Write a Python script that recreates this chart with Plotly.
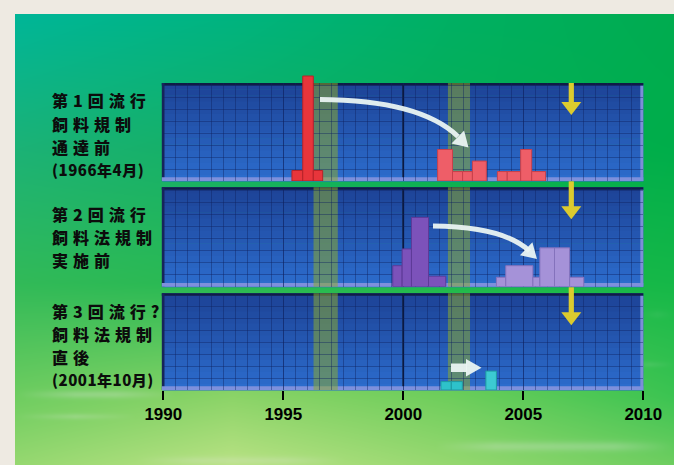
import base64
import struct
import zlib

import numpy as np
import plotly.graph_objects as go

W, H = 674, 465

# ---------------- data ----------------
year_ticks = [1990, 1995, 2000, 2005, 2010]
tick_labels = ["1990", "1995", "2000", "2005", "2010"]

panel_titles = [
    ["第1回流行", "飼料規制", "通達前", "(1966年4月)"],
    ["第2回流行", "飼料法規制", "実施前"],
    ["第3回流行?", "飼料法規制", "直後", "(2001年10月)"],
]

# regulation periods shaded across every panel (years)
shade_start = [1996.26, 2001.86]
shade_end = [1997.27, 2002.78]

marker_year = 2007.0      # yellow arrow
divider_year = 2000.0     # black line

# histogram bins: edges (years) and counts, one cluster per list
p1_a_edges = [1995.36, 1995.81, 1996.25, 1996.64]
p1_a_counts = [1.0, 10.0, 1.0]
p1_b_edges = [2001.43, 2002.05, 2002.47, 2002.88, 2003.46]
p1_b_counts = [3.0, 0.9, 0.9, 1.9]
p1_c_edges = [2003.92, 2004.33, 2004.89, 2005.35, 2005.93]
p1_c_counts = [0.9, 0.9, 3.0, 0.9]

p2_a_edges = [1999.56, 1999.95, 2000.34, 2001.05, 2001.77]
p2_a_counts = [2.0, 3.6, 6.6, 1.0]
p2_b_edges = [2003.88, 2004.27, 2005.40, 2005.69, 2006.30, 2006.93, 2007.52]
p2_b_counts = [0.9, 2.0, 0.9, 3.7, 3.7, 0.9]

p3_a_edges = [2001.57, 2002.00, 2002.46]
p3_a_counts = [0.8, 0.8]
p3_b_edges = [2003.44, 2003.88]
p3_b_counts = [1.8]

clusters = [
    (1, p1_a_edges, p1_a_counts, "#E8353B", "#B82228"),
    (1, p1_b_edges, p1_b_counts, "#EE5E68", "#C8404A"),
    (1, p1_c_edges, p1_c_counts, "#EE5E68", "#C8404A"),
    (2, p2_a_edges, p2_a_counts, "#7C52BA", "#5E3A98"),
    (2, p2_b_edges, p2_b_counts, "#A592D8", "#8472BC"),
    (3, p3_a_edges, p3_a_counts, "#2EC2CA", "#1E9AA2"),
    (3, p3_b_edges, p3_b_counts, "#3CCAD2", "#1E9AA2"),
]

# ---------------- layout geometry (px) ----------------
X0_PX, X1_PX = 163.3, 643.3
panels_px = [(83.0, 181.0), (187.3, 286.7), (293.3, 390.0)]
UNIT_PX = 10.5
GRID_PX = 12.0
BAR_HEADROOM_PX = 14   # the first panel's bars may rise above its frame
CAPTION_MID = [135, 237, 345]
CAPTION_STEP = 23


def px(x):
    return x / W


def py(y):
    return 1 - y / H


def year_px(yr):
    return X0_PX + (yr - 1990) / 20 * (X1_PX - X0_PX)


# ---------------- background picture ----------------
def png_uri(arr):
    h, w, _ = arr.shape
    raw = b"".join(b"\x00" + arr[r].tobytes() for r in range(h))

    def chunk(tag, data):
        body = tag + data
        return struct.pack(">I", len(data)) + body + struct.pack(">I", zlib.crc32(body) & 0xFFFFFFFF)

    png = (b"\x89PNG\r\n\x1a\n"
           + chunk(b"IHDR", struct.pack(">IIBBBBB", w, h, 8, 2, 0, 0, 0))
           + chunk(b"IDAT", zlib.compress(raw, 9))
           + chunk(b"IEND", b""))
    return "data:image/png;base64," + base64.b64encode(png).decode()


bg_w, bg_h = W - 15, H - 14
cu = [0.0, 0.33, 0.66, 1.0]
cv = [0.0, 0.3, 0.6, 0.85, 1.0]
ctrl = np.array([
    [(0, 182, 152), (0, 180, 128), (0, 176, 100), (0, 172, 80)],
    [(28, 178, 118), (20, 176, 100), (8, 175, 84), (0, 174, 74)],
    [(50, 186, 88), (40, 186, 82), (30, 186, 76), (22, 184, 72)],
    [(110, 205, 96), (140, 212, 104), (110, 206, 92), (60, 196, 82)],
    [(150, 216, 112), (185, 226, 132), (150, 216, 112), (110, 206, 96)],
], dtype=float)
uu = np.linspace(0, 1, bg_w)
vv = np.linspace(0, 1, bg_h)
rows = np.stack([[np.interp(uu, cu, ctrl[r, :, c]) for c in range(3)] for r in range(len(cv))])
img = np.empty((bg_h, bg_w, 3))
for c in range(3):
    for j in range(bg_w):
        img[:, j, c] = np.interp(vv, cv, rows[:, c, j])
# soft horizontal light streaks in the lower part
yy, xx = np.mgrid[0:bg_h, 0:bg_w]
streaks = [(380, 0, 160, 4, 0.25), (402, 0, 120, 3, 0.2), (432, 420, 659, 5, 0.25),
           (300, 625, 659, 4, 0.2), (350, 610, 659, 3, 0.22), (446, 120, 330, 4, 0.2)]
for yc, xa, xb, s, a in streaks:
    g = np.exp(-((yy - yc) / s) ** 2)
    xm = np.clip(np.minimum(xx - xa, xb - xx) / 60.0, 0, 1)
    k = a * g * xm
    img = img * (1 - k[..., None]) + 230 * k[..., None]
bg_uri = png_uri(np.clip(img, 0, 255).astype(np.uint8))

# ---------------- figure ----------------
fig = go.Figure()

# panel 1 bars live on an overlay axis pair with the same scale but extra headroom
bar_axes = {1: ("x4", "y4"), 2: ("x2", "y2"), 3: ("x3", "y3")}
for n, edges, counts, color, lcolor in clusters:
    centers = [(a + b) / 2 for a, b in zip(edges[:-1], edges[1:])]
    widths = [b - a for a, b in zip(edges[:-1], edges[1:])]
    xa, ya = bar_axes[n]
    fig.add_trace(go.Bar(
        x=centers, y=counts, width=widths,
        marker=dict(color=color, line=dict(color=lcolor, width=1)),
        xaxis=xa, yaxis=ya,
        cliponaxis=False, hoverinfo="skip", showlegend=False,
    ))

GRID = "rgba(14,34,96,0.42)"
layout = dict(
    width=W, height=H, autosize=False,
    margin=dict(l=0, r=0, t=0, b=0, pad=0, autoexpand=False),
    paper_bgcolor="#EEEAE2", plot_bgcolor="rgba(0,0,0,0)",
    barmode="overlay", showlegend=False,
)
shapes = []
annotations = []

for i, (top, base) in enumerate(panels_px):
    n = i + 1
    sx = "" if n == 1 else str(n)
    yr_max = (base - top) / UNIT_PX
    layout[f"xaxis{sx}"] = dict(
        domain=[px(X0_PX), px(X1_PX)], range=[1990, 2010], anchor=f"y{sx}",
        tickmode="array", tickvals=year_ticks, ticktext=tick_labels,
        showgrid=True, gridcolor=GRID, gridwidth=1,
        minor=dict(tickmode="linear", tick0=1990, dtick=0.5, showgrid=True, gridcolor=GRID, gridwidth=1),
        zeroline=False, showline=False, automargin=False,
        showticklabels=(n == 3), ticks="outside" if n == 3 else "",
        ticklen=9, tickwidth=2, tickcolor="black",
        tickfont=dict(family="Liberation Sans, Arial", size=17, color="black", weight="bold"),
        fixedrange=True,
    )
    layout[f"yaxis{sx}"] = dict(
        domain=[py(base), py(top)], range=[0, yr_max], anchor=f"x{sx}",
        showgrid=True, gridcolor=GRID, gridwidth=1, tick0=0, dtick=GRID_PX / UNIT_PX,
        showticklabels=False, ticks="", zeroline=False, showline=False,
        automargin=False, fixedrange=True,
    )

    # panel body: vertical shading from dark to lighter blue
    nstrip = 16
    c_top = np.array([30, 68, 152])
    c_bot = np.array([44, 108, 204])
    for k in range(nstrip):
        t = k / (nstrip - 1)
        col = (c_top * (1 - t) + c_bot * t).astype(int)
        y0 = top + (base - top) * k / nstrip
        y1 = top + (base - top) * (k + 1) / nstrip + 0.6
        shapes.append(dict(type="rect", xref="paper", yref="paper", layer="below",
                           x0=px(X0_PX - 1), x1=px(X1_PX), y0=py(y1), y1=py(y0),
                           fillcolor=f"rgb({col[0]},{col[1]},{col[2]})", line=dict(width=0)))
    # bevelled edges
    shapes += [
        dict(type="rect", xref="paper", yref="paper", layer="below",
             x0=px(X0_PX - 1.5), x1=px(X1_PX), y0=py(top + 2.5), y1=py(top),
             fillcolor="#101C46", line=dict(width=0)),
        dict(type="rect", xref="paper", yref="paper", layer="below",
             x0=px(X0_PX - 1.5), x1=px(X0_PX + 1.2), y0=py(base), y1=py(top),
             fillcolor="#16245A", line=dict(width=0)),
        dict(type="rect", xref="paper", yref="paper", layer="below",
             x0=px(X1_PX - 3), x1=px(X1_PX), y0=py(base), y1=py(top + 2.5),
             fillcolor="#7C8ED8", line=dict(width=0)),
        dict(type="rect", xref="paper", yref="paper", layer="below",
             x0=px(X0_PX - 1.5), x1=px(X1_PX), y0=py(base), y1=py(base - 3.8),
             fillcolor="#7E90DC", line=dict(width=0)),
    ]
    # shaded periods and the 2000 divider
    for a, b in zip(shade_start, shade_end):
        shapes.append(dict(type="rect", xref=f"x{sx}", yref="paper", layer="below",
                           x0=a, x1=b, y0=py(base), y1=py(top),
                           fillcolor="rgba(138,170,48,0.55)", line=dict(width=0)))
    shapes.append(dict(type="line", xref=f"x{sx}", yref="paper", layer="below",
                       x0=divider_year, x1=divider_year, y0=py(base - 3.8), y1=py(top + 2),
                       line=dict(color="#05070F", width=1.6)))

    # yellow downward arrow
    xm = year_px(marker_year)
    shaft_top = top if n == 1 else top - 6
    head_top, tip = top + 19, top + 32
    shapes.append(dict(type="rect", xref="paper", yref="paper", layer="above",
                       x0=px(xm - 2.6), x1=px(xm + 2.6), y0=py(head_top + 1), y1=py(shaft_top),
                       fillcolor="#DCCB2E", line=dict(width=0)))
    shapes.append(dict(type="path", xref="paper", yref="paper", layer="above",
                       path=f"M {px(xm - 10)},{py(head_top)} L {px(xm + 10)},{py(head_top)} "
                            f"L {px(xm)},{py(tip)} Z",
                       fillcolor="#DCCB2E", line=dict(width=0)))

    # panel caption, one line per annotation
    lines = panel_titles[i]
    first = CAPTION_MID[i] - CAPTION_STEP * (len(lines) - 1) / 2
    for j, line in enumerate(lines):
        if line.startswith("("):
            size, spacing = 15, 0.5
        else:
            size, spacing = 16, 5
        annotations.append(dict(
            xref="paper", yref="paper", x=px(51), y=py(first + j * CAPTION_STEP),
            xanchor="left", yanchor="middle", borderpad=0,
            text=f'<span style="letter-spacing:{spacing}px">{line}</span>', showarrow=False,
            font=dict(family="Noto Sans CJK JP", size=size, color="#0C0C0C", weight=900),
        ))

# overlay axes for the first panel's bars (same scale, taller box, nothing drawn)
top1, base1 = panels_px[0]
layout["xaxis4"] = dict(domain=[px(X0_PX), px(X1_PX)], range=[1990, 2010], anchor="y4",
                        visible=False, fixedrange=True, automargin=False)
layout["yaxis4"] = dict(domain=[py(base1), py(top1 - BAR_HEADROOM_PX)],
                        range=[0, (base1 - top1 + BAR_HEADROOM_PX) / UNIT_PX], anchor="x4",
                        visible=False, fixedrange=True, automargin=False)

# white arrows
ARROW = "rgba(234,244,242,0.95)"


def head_path(tip, frm, length, half):
    d = np.array(tip, float) - np.array(frm, float)
    d /= np.linalg.norm(d)
    nrm = np.array([-d[1], d[0]])
    b = np.array(tip) - d * length
    p1, p2 = b + nrm * half, b - nrm * half
    return (f"M {px(tip[0])},{py(tip[1])} L {px(p1[0])},{py(p1[1])} "
            f"L {px(p2[0])},{py(p2[1])} Z")


curves = [
    ((320, 99.5), (420, 100), (458, 136.5), (468.5, 147.5)),
    ((433, 226), (503, 226.5), (529.5, 251), (537, 259)),
]
for p0, c, p2, tipp in curves:
    shapes.append(dict(type="path", xref="paper", yref="paper", layer="above",
                       path=f"M {px(p0[0])},{py(p0[1])} Q {px(c[0])},{py(c[1])} {px(p2[0])},{py(p2[1])}",
                       line=dict(color=ARROW, width=5)))
    shapes.append(dict(type="path", xref="paper", yref="paper", layer="above",
                       path=head_path(tipp, c, 15, 9), fillcolor=ARROW, line=dict(width=0)))

# straight arrow in the last panel
shapes.append(dict(type="rect", xref="paper", yref="paper", layer="above",
                   x0=px(451), x1=px(467), y0=py(372), y1=py(363.5),
                   fillcolor=ARROW, line=dict(width=0)))
shapes.append(dict(type="path", xref="paper", yref="paper", layer="above",
                   path=f"M {px(466)},{py(359)} L {px(481.5)},{py(367.7)} L {px(466)},{py(376.5)} Z",
                   fillcolor=ARROW, line=dict(width=0)))

layout["shapes"] = shapes
layout["annotations"] = annotations
layout["images"] = [dict(source=bg_uri, xref="paper", yref="paper", x=px(15), y=py(14),
                         sizex=(W - 15) / W, sizey=(H - 14) / H, xanchor="left", yanchor="top",
                         sizing="stretch", layer="below")]
fig.update_layout(**layout)

fig.write_html("out.html")
